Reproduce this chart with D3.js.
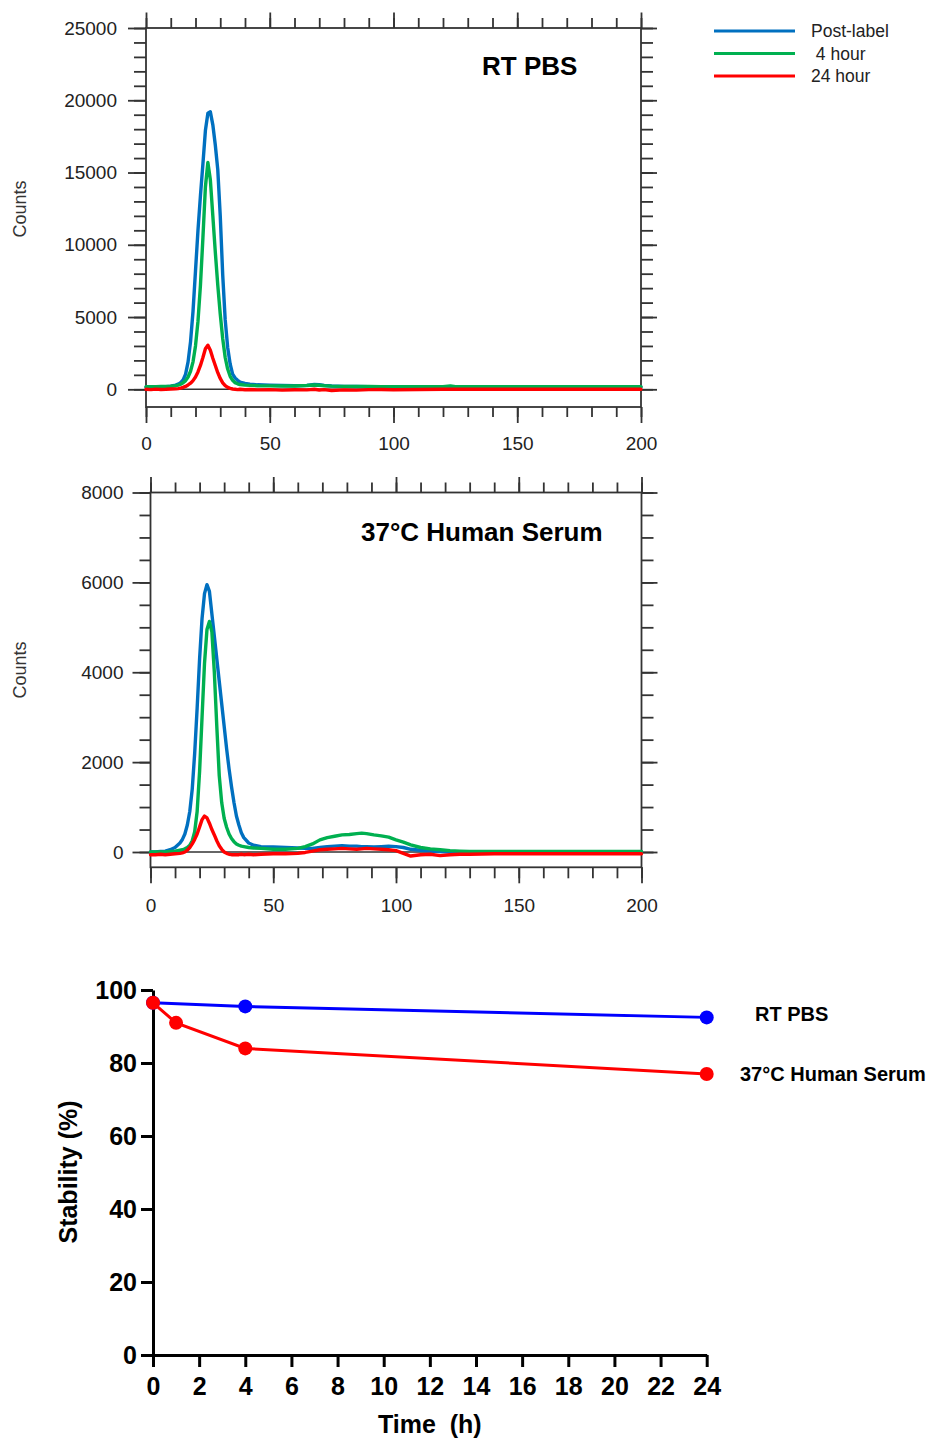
<!DOCTYPE html>
<html>
<head>
<meta charset="utf-8">
<script src="https://cdn.jsdelivr.net/npm/d3@7"></script>
<style>
  body { margin: 0; background: #fff; }
  svg { display: block; }
</style>
</head>
<body>
<svg id="fig" width="933" height="1439"></svg>
<script>
// ---------- Radio-HPLC traces, RT PBS ----------
const pbsTime = [0,2,4,6,8,10,12,13,14,15,16,17,18,19,20,21,22,23,24,25,26,27,28,29,30,31,32,33,34,35,36,37,38,40,42,45,50,55,60,65,68,70,72,75,80,85,90,95,100,110,120,123,125,130,140,150,160,170,180,190,200];
const pbsPostLabel = [150,150,160,170,180,210,
  290,360,460,650,1050,1900,3300,5400,8200,11000,13400,15600,17900,19100,19200,18300,16900,15200,12000,7900,4800,2900,1750,1050,780,620,490,
  400,350,310,280,260,250,270,340,320,270,230,200,190,180,175,170,
  165,165,170,165,165,
  160,160,160,160,160,160,160];
const pbs4h = [180,180,180,190,200,210,
  250,290,350,450,600,850,1250,1900,3000,4700,7200,10500,14000,15700,14500,12000,9500,7200,5200,3500,2200,1400,900,620,460,380,330,
  290,270,250,240,230,230,260,300,280,250,220,200,195,190,185,185,
  180,180,240,180,180,
  180,180,180,180,180,180,180];
const pbs24h = [0,-20,10,-10,0,20,
  30,50,80,130,200,300,420,600,850,1200,1650,2200,2800,3050,2700,2150,1650,1150,750,450,250,130,60,20,0,-20,0,
  -30,-10,-40,-20,-60,-30,-40,0,-50,-20,-80,-40,-60,-20,-10,-30,
  -10,0,0,0,0,
  0,0,0,0,0,0,0];

// ---------- Radio-HPLC traces, 37°C human serum ----------
const serumTime = [0,2,4,6,8,10,12,13,14,15,16,17,18,19,20,21,22,23,24,25,26,27,28,29,30,31,32,33,34,35,36,37,38,40,42,45,50,55,60,63,66,69,72,75,78,81,84,86,88,91,94,97,100,103,106,110,114,118,122,126,130,140,150,160,170,180,190,200];
const serumPostLabel = [0,0,10,20,50,100,
  200,280,400,600,900,1400,2200,3200,4300,5200,5750,5950,5800,5300,4800,4300,3800,3300,2800,2300,1850,1450,1100,800,600,430,320,
  200,150,120,110,100,90,80,80,100,120,130,140,130,130,120,120,110,120,130,120,
  100,60,40,20,10,0,0,0,
  0,0,0,0,0,0,0];
const serum4h = [0,0,0,0,10,20,
  40,50,70,100,150,250,450,900,1800,3000,4200,4950,5130,4900,4000,2800,1700,1100,750,550,400,300,230,180,150,130,120,
  100,90,80,60,60,80,120,180,270,320,350,380,390,410,420,410,380,360,330,270,
  220,160,100,70,50,30,20,10,
  10,10,10,10,10,10,10];
const serum24h = [-60,-60,-50,-60,-50,-40,
  -30,-20,0,40,100,180,280,400,560,720,800,760,640,500,380,250,140,60,0,-30,-50,-60,-60,-60,-60,-50,-60,
  -50,-60,-50,-40,-40,-30,-10,20,50,60,70,80,70,60,70,80,70,60,50,30,
  -30,-90,-60,-50,-80,-60,-50,-50,
  -40,-40,-40,-40,-40,-40,-40];

const traceNames = ["Post-label", " 4 hour", "24 hour"];
const traceColors = ["#0070C0", "#00B050", "#FF0000"];

// ---------- Stability over time ----------
const pbsHours = [0, 4, 24];
const pbsStability = [96.5, 95.5, 92.5];
const serumHours = [0, 1, 4, 24];
const serumStability = [96.5, 91, 84, 77];
const stabilityYTicks = [0, 20, 40, 60, 80, 100];
const stabilityXTicks = [0, 2, 4, 6, 8, 10, 12, 14, 16, 18, 20, 22, 24];

const svg = d3.select("#fig");
const FONT = "'Liberation Sans', Arial, Helvetica, sans-serif";
const AXIS = "#333";

function tracePanel(p) {
  const g = svg.append("g");
  const x = d3.scaleLinear().domain([0, 200]).range([p.left, p.right]);
  const y = d3.scaleLinear().domain([0, p.yMax]).range([p.zeroY, p.top]);

  const style = sel => {
    sel.selectAll(".domain").remove();
    sel.selectAll("line").attr("stroke", AXIS).attr("stroke-width", 1.8);
    sel.selectAll("text").attr("fill", "#222").style("font-family", FONT).style("font-size", "19px");
  };

  // frame
  g.append("rect").attr("x", p.left).attr("y", p.top)
    .attr("width", p.right - p.left).attr("height", p.axisY - p.top)
    .attr("fill", "none").attr("stroke", AXIS).attr("stroke-width", 1.8);

  // bottom axis
  g.append("g").attr("transform", `translate(0,${p.axisY})`)
    .call(d3.axisBottom(x).tickValues(d3.range(0, 201, 10)).tickSize(p.xMinor).tickFormat(""))
    .call(style);
  g.append("g").attr("transform", `translate(0,${p.axisY})`)
    .call(d3.axisBottom(x).tickValues(d3.range(0, 201, 50)).tickSize(16).tickPadding(p.xPad).tickFormat(d3.format("d")))
    .call(style);
  // top axis
  g.append("g").attr("transform", `translate(0,${p.top})`)
    .call(d3.axisTop(x).tickValues(d3.range(0, 201, 10)).tickSize(10).tickFormat(""))
    .call(style);
  g.append("g").attr("transform", `translate(0,${p.top})`)
    .call(d3.axisTop(x).tickValues(d3.range(0, 201, 50)).tickSize(15.5).tickFormat(""))
    .call(style);
  // left axis
  g.append("g").attr("transform", `translate(${p.left},0)`)
    .call(d3.axisLeft(y).tickValues(d3.range(0, p.yMax + 1, p.yMinor)).tickSize(p.yMinorLen).tickFormat(""))
    .call(style);
  g.append("g").attr("transform", `translate(${p.left},0)`)
    .call(d3.axisLeft(y).tickValues(d3.range(0, p.yMax + 1, p.yMajor)).tickSize(18).tickPadding(p.yPad).tickFormat(d3.format("d")))
    .call(style);
  // right axis
  g.append("g").attr("transform", `translate(${p.right},0)`)
    .call(d3.axisRight(y).tickValues(d3.range(0, p.yMax + 1, p.yMinor)).tickSize(12).tickFormat(""))
    .call(style);
  g.append("g").attr("transform", `translate(${p.right},0)`)
    .call(d3.axisRight(y).tickValues(d3.range(0, p.yMax + 1, p.yMajor)).tickSize(16).tickFormat(""))
    .call(style);

  // zero baseline
  g.append("line").attr("x1", p.left).attr("x2", p.right)
    .attr("y1", y(0)).attr("y2", y(0)).attr("stroke", AXIS).attr("stroke-width", 1.6);

  // traces
  const line = d3.line().x(d => x(d[0])).y(d => y(d[1]));
  p.series.forEach((vals, i) => {
    g.append("path")
      .datum(p.time.map((t, k) => [t, vals[k]]))
      .attr("d", line)
      .attr("fill", "none")
      .attr("stroke", traceColors[i])
      .attr("stroke-width", 3.4)
      .attr("stroke-linejoin", "round")
      .attr("stroke-linecap", "round");
  });

  // condition title
  g.append("text").attr("x", p.titleX).attr("y", p.titleY)
    .style("font-family", FONT).style("font-size", "26px").style("font-weight", "bold")
    .attr("fill", "#000").text(p.title);

  // y label
  g.append("text")
    .attr("transform", `translate(26,${p.countsY}) rotate(-90)`)
    .attr("text-anchor", "middle")
    .style("font-family", FONT).style("font-size", "18px").attr("fill", "#333")
    .text("Counts");
}

tracePanel({
  left: 146, right: 641, top: 28, zeroY: 389.3, axisY: 407,
  yMax: 25000, yMajor: 5000, yMinor: 1000, yMinorLen: 12, yPad: 11,
  xMinor: 10, xPad: 14,
  time: pbsTime, series: [pbsPostLabel, pbs4h, pbs24h],
  title: "RT PBS", titleX: 482, titleY: 75, countsY: 209
});

tracePanel({
  left: 150.5, right: 641.5, top: 492.5, zeroY: 852, axisY: 867.3,
  yMax: 8000, yMajor: 2000, yMinor: 500, yMinorLen: 11, yPad: 9,
  xMinor: 11, xPad: 15,
  time: serumTime, series: [serumPostLabel, serum4h, serum24h],
  title: "37°C Human Serum", titleX: 361, titleY: 541, countsY: 670
});

// legend for the traces
const legend = svg.append("g");
traceNames.forEach((name, i) => {
  const ly = 31 + i * 22.5;
  legend.append("line").attr("x1", 714).attr("x2", 795).attr("y1", ly).attr("y2", ly)
    .attr("stroke", traceColors[i]).attr("stroke-width", 3);
  legend.append("text").attr("x", 811).attr("y", ly + 6)
    .attr("xml:space", "preserve")
    .style("white-space", "pre")
    .style("font-family", FONT).style("font-size", "17.5px").attr("fill", "#222")
    .text(name);
});

// ---------- stability panel ----------
(function () {
  const left = 153, right = 706.7, top = 990, bottom = 1355;
  const x = d3.scaleLinear().domain([0, 24]).range([left, right]);
  const y = d3.scaleLinear().domain([0, 100]).range([bottom, top]);
  const g = svg.append("g");

  const style = sel => {
    sel.select(".domain").attr("stroke", "#000").attr("stroke-width", 3);
    sel.selectAll("line").attr("stroke", "#000").attr("stroke-width", 3);
    sel.selectAll("text").attr("fill", "#000").style("font-family", FONT)
      .style("font-size", "25px").style("font-weight", "bold");
  };

  g.append("g").attr("transform", `translate(0,${bottom})`)
    .call(d3.axisBottom(x).tickValues(stabilityXTicks).tickSize(12).tickSizeOuter(0).tickPadding(10).tickFormat(d3.format("d")))
    .call(style);
  g.append("g").attr("transform", `translate(${left},0)`)
    .call(d3.axisLeft(y).tickValues(stabilityYTicks).tickSize(12).tickSizeOuter(0).tickPadding(4).tickFormat(d3.format("d")))
    .call(style);

  const line = d3.line().x(d => x(d[0])).y(d => y(d[1]));
  const groups = [
    { t: pbsHours, v: pbsStability, c: "#0000FF", label: "RT PBS", lx: 755, ly: 1021 },
    { t: serumHours, v: serumStability, c: "#FF0000", label: "37°C Human Serum", lx: 740, ly: 1081 }
  ];
  groups.forEach(s => {
    const pts = s.t.map((t, k) => [t, s.v[k]]);
    g.append("path").datum(pts).attr("d", line)
      .attr("fill", "none").attr("stroke", s.c).attr("stroke-width", 3);
    g.selectAll(null).data(pts).enter().append("circle")
      .attr("cx", d => x(d[0])).attr("cy", d => y(d[1])).attr("r", 7)
      .attr("fill", s.c);
    g.append("text").attr("x", s.lx).attr("y", s.ly)
      .style("font-family", FONT).style("font-size", "20px").style("font-weight", "bold")
      .attr("fill", "#000").text(s.label);
  });

  g.append("text").attr("x", (left + right) / 2).attr("y", 1433)
    .attr("text-anchor", "middle")
    .style("font-family", FONT).style("font-size", "25px").style("font-weight", "bold")
    .attr("xml:space", "preserve").style("white-space", "pre")
    .text("Time  (h)");
  g.append("text")
    .attr("transform", `translate(77,1172) rotate(-90)`)
    .attr("text-anchor", "middle")
    .style("font-family", FONT).style("font-size", "25px").style("font-weight", "bold")
    .text("Stability (%)");
})();
</script>
</body>
</html>
